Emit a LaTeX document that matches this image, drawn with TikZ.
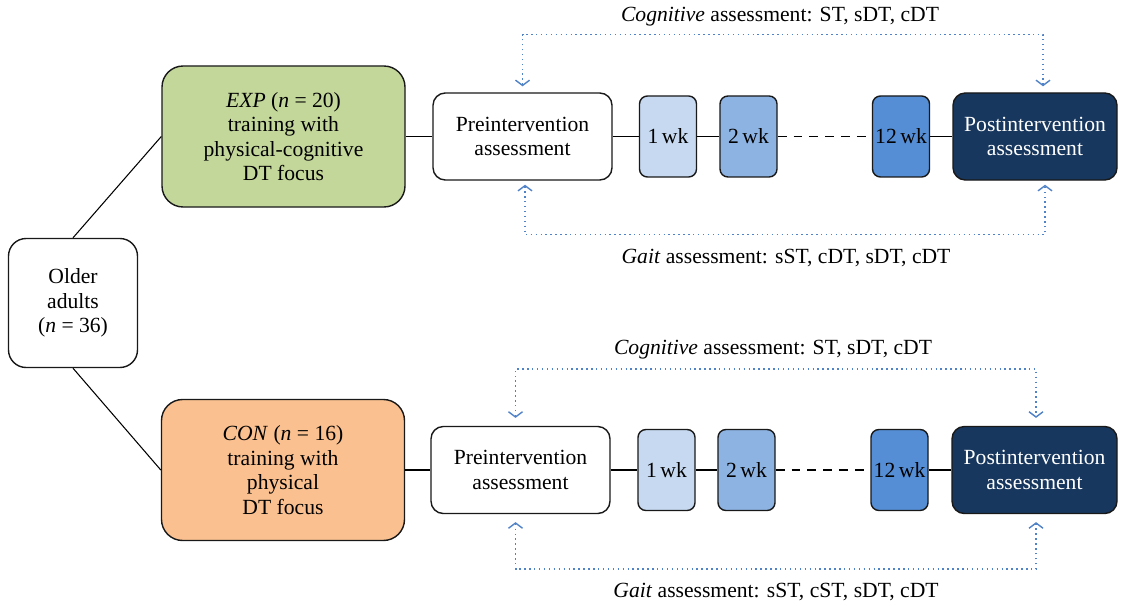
\documentclass[tikz,border=0pt]{standalone}
\usepackage{fontspec}
\setmainfont{Liberation Serif}
\usepackage{tikz}
\usetikzlibrary{arrows.meta}

\definecolor{expgreen}{RGB}{196,215,155}
\definecolor{conorange}{RGB}{250,192,143}
\definecolor{wkone}{RGB}{198,217,240}
\definecolor{wktwo}{RGB}{141,179,226}
\definecolor{wktwelve}{RGB}{85,142,213}
\definecolor{postblue}{RGB}{23,55,94}
\definecolor{dotblue}{RGB}{80,130,200}

\begin{document}
\begin{tikzpicture}[%
      box/.style={draw=black!90, line width=0.8pt, align=center, inner sep=0pt,
        font=\fontsize{12.3}{13.9}\selectfont},
      groupbox/.style={box, minimum width=4.86cm, minimum height=2.82cm, rounded corners=12pt},
      assbox/.style={box, minimum height=1.74cm, rounded corners=7pt},
      wkbox/.style={box, minimum width=1.14cm, minimum height=1.62cm, rounded corners=4.5pt},
      link/.style={line width=0.6pt},
      check/.style={draw=dotblue, line width=0.8pt, dotted, <->,
        >={Straight Barb[length=3pt,width=8pt]}},
      lbl/.style={font=\fontsize{12.3}{13.9}\selectfont},
      ]
      \useasboundingbox (0,0) rectangle (22.5,-12.1);

      % study sample and the two groups
      \node[box, minimum width=2.58cm, minimum height=2.58cm, rounded corners=10pt] (older) at (1.46,-6.06)
        {Older\\adults\\(\textit{n} = 36)};
      \node[groupbox, fill=expgreen] (exp) at (5.67,-2.73)
        {\textit{EXP} (\textit{n} = 20)\\training with\\physical-cognitive\\DT focus};
      \node[groupbox, fill=conorange] (con) at (5.66,-9.40)
        {\textit{CON} (\textit{n} = 16)\\training with\\physical\\DT focus};

      % upper time line
      \node[assbox, minimum width=3.58cm, fill=white] (preA) at (10.45,-2.73) {Preintervention\\assessment};
      \node[wkbox, fill=wkone] (wkA1) at (13.36,-2.73) {1\,wk};
      \node[wkbox, fill=wktwo] (wkA2) at (14.97,-2.73) {2\,wk};
      \node[wkbox, fill=wktwelve] (wkA3) at (18.02,-2.73) {12\,wk};
      \node[assbox, minimum width=3.28cm, fill=postblue, text=white] (postA) at (20.70,-2.73) {Postintervention\\assessment};

      % lower time line
      \node[assbox, minimum width=3.58cm, fill=white] (preB) at (10.41,-9.40) {Preintervention\\assessment};
      \node[wkbox, fill=wkone] (wkB1) at (13.33,-9.40) {1\,wk};
      \node[wkbox, fill=wktwo] (wkB2) at (14.93,-9.40) {2\,wk};
      \node[wkbox, fill=wktwelve] (wkB3) at (17.99,-9.40) {12\,wk};
      \node[assbox, minimum width=3.30cm, fill=postblue, text=white] (postB) at (20.69,-9.40) {Postintervention\\assessment};

      \draw[link] (older.north) -- (exp.west);
      \draw[link] (older.south) -- (con.west);

      \draw[link] (exp.east) -- (preA.west);
      \draw[link] (preA.east) -- (wkA1.west);
      \draw[link] (wkA1.east) -- (wkA2.west);
      \draw[link, dashed, dash pattern=on 5pt off 4pt] (wkA2.east) -- (wkA3.west);
      \draw[link] (wkA3.east) -- (postA.west);

      \draw[link] (con.east) -- (preB.west);
      \draw[link] (preB.east) -- (wkB1.west);
      \draw[link] (wkB1.east) -- (wkB2.west);
      \draw[link, dashed, dash pattern=on 5pt off 4pt] (wkB2.east) -- (wkB3.west);
      \draw[link] (wkB3.east) -- (postB.west);

      % assessments
      \node[lbl] (cogA) at (15.60,-0.34) {\textit{Cognitive} assessment: ST, sDT, cDT};
      \node[lbl] (gaitA) at (15.72,-5.16) {\textit{Gait} assessment: sST, cDT, sDT, cDT};
      \node[lbl] (cogB) at (15.46,-7.00) {\textit{Cognitive} assessment: ST, sDT, cDT};
      \node[lbl] (gaitB) at (15.52,-11.84) {\textit{Gait} assessment: sST, cST, sDT, cDT};

      \draw[check] ([yshift=3.4pt]preA.north) -- ++(0,1.04) -| ([xshift=0.16cm,yshift=3.4pt]postA.north);
      \draw[check] ([xshift=0.05cm,yshift=-2.3pt]preA.south) -- ++(0,-1.0) -| ([xshift=0.20cm,yshift=-2.3pt]postA.south);
      \draw[check] ([xshift=-0.10cm,yshift=4.5pt]preB.north) -- ++(0,0.98) -| ([xshift=0.03cm,yshift=4.5pt]postB.north);
      \draw[check] ([xshift=-0.10cm,yshift=-4.5pt]preB.south) -- ++(0,-0.94) -| ([xshift=0.03cm,yshift=-4.5pt]postB.south);
\end{tikzpicture}
\end{document}
